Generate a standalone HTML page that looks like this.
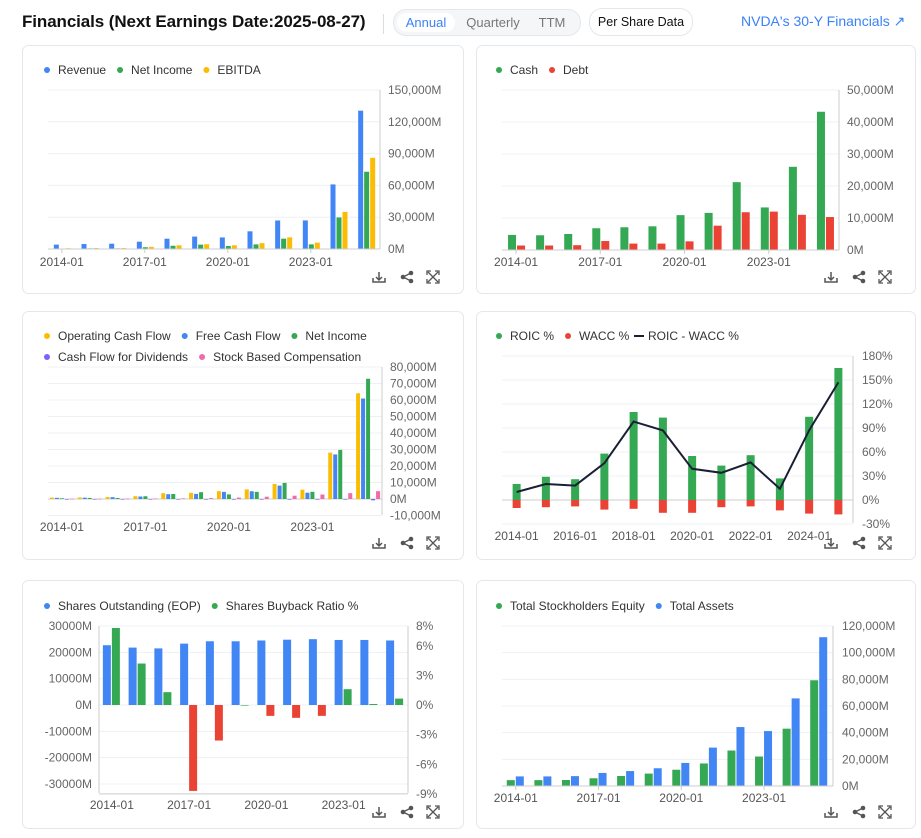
<!DOCTYPE html>
<html><head><meta charset="utf-8">
<style>
body{margin:0;width:921px;height:838px;background:#fff;font-family:"Liberation Sans",sans-serif;position:relative;overflow:hidden}
.hdr{position:absolute;font-family:"Liberation Sans",sans-serif}
#title{left:22px;top:12px;font-size:17px;font-weight:bold;color:#111;letter-spacing:-0.1px}
#sep{left:383px;top:14px;width:1px;height:20px;background:#ddd}
#seg{left:393px;top:9px;width:186px;height:25px;border:1px solid #e5e7eb;border-radius:13px;background:#f5f6f8}
#seg span{position:absolute;top:3px;height:19px;line-height:19px;font-size:13px;color:#777;text-align:center}
#per{left:589px;top:8px;width:102px;height:26px;border:1px solid #e5e7eb;border-radius:13px;font-size:12.5px;line-height:26px;text-align:center;color:#111}
#link{left:741px;top:13px;font-size:14px;color:#3b82f6}
svg text{font-family:"Liberation Sans",sans-serif}
</style></head>
<body>
<div class="hdr" id="title">Financials (Next Earnings Date:2025-08-27)</div>
<div class="hdr" id="sep"></div>
<div class="hdr" id="seg">
<span style="left:3px;width:58px;background:#fff;border-radius:10px;color:#3b82f6">Annual</span>
<span style="left:66px;width:66px">Quarterly</span>
<span style="left:136px;width:44px">TTM</span>
</div>
<div class="hdr" id="per">Per Share Data</div>
<div class="hdr" id="link">NVDA's 30-Y Financials ↗</div>
<svg id="s" width="921" height="838" style="position:absolute;left:0;top:0"></svg>
<script>
const years=['2014-01','2015-01','2016-01','2017-01','2018-01','2019-01','2020-01','2021-01','2022-01','2023-01','2024-01','2025-01'];
// chart 1
const c1Ticks=[0,30000,60000,90000,120000,150000];
const revenue=[4130,4682,5010,6910,9714,11716,10918,16675,26914,26974,60922,130497];
const netIncome=[440,631,614,1666,3047,4141,2796,4332,9752,4368,29760,72880];
const ebitda=[700,900,900,2000,3500,4500,3500,5500,11000,6000,35000,86000];
// chart 2
const c2Ticks=[0,10000,20000,30000,40000,50000];
const cash=[4700,4600,5000,6800,7100,7400,10900,11600,21200,13300,26000,43200];
const debt=[1400,1400,1500,2800,2000,2000,2700,7600,11800,12000,11000,10300];
// chart 3
const c3Ticks=[-10000,0,10000,20000,30000,40000,50000,60000,70000,80000];
const opCashFlow=[835,906,1175,1672,3502,3743,4761,5822,9108,5641,28090,64089];
const freeCashFlow=[700,800,1100,1500,2900,3100,4300,4700,8100,3800,27000,60900];
const dividends=[-180,-190,-210,-260,-340,-370,-390,-395,-400,-400,-400,-800];
const sbc=[136,158,204,248,391,557,844,1397,2004,2710,3549,4737];
// chart 4
const c4Ticks=[-30,0,30,60,90,120,150,180];
const roic=[20,29,26,58,110,103,55,43,56,27,104,165];
const wacc=[-10,-9,-8,-12,-11,-16,-16,-9,-8,-13,-17,-18];
const roicMinusWacc=[10,20,18,46,98,87,39,34,47,14,87,147];
// chart 5
const c5Ticks=[-30000,-20000,-10000,0,10000,20000,30000];
const c5RightTicks=[-9,-6,-3,0,3,6,8];
const sharesOut=[22700,21800,21500,23300,24200,24200,24500,24800,25000,24700,24700,24500];
const buyback=[7.8,4.2,1.3,-8.7,-3.6,0,-1.1,-1.3,-1.1,1.6,0.1,0.65];
// chart 6
const c6Ticks=[0,20000,40000,60000,80000,100000,120000];
const equity=[4400,4400,4500,5800,7500,9300,12200,16900,26600,22100,43000,79300];
const assets=[7200,7200,7400,9800,11200,13300,17300,28800,44200,41200,65700,111600];

const S=document.getElementById('s');
const NS='http://www.w3.org/2000/svg';
function el(tag,a,name,inter){const e=document.createElementNS(NS,tag);for(const k in a)e.setAttribute(k,a[k]);


S.appendChild(e);return e;}
function txt(x,y,s,name,opt){opt=opt||{};const e=el('text',{x:x,y:y,'font-size':opt.fs||12,fill:opt.fill||'#555','text-anchor':opt.anchor||'start'},name);e.textContent=s;return e;}
const fmt=v=>v.toLocaleString('en-US')+'M';
const BLUE='#4285f4',GREEN='#34a853',YEL='#fbbc04',RED='#ea4335',PURP='#7b61ff',PINK='#f06ba8';
function card(x,y,w,h,name){el('rect',{x:x+.5,y:y+.5,width:w,height:h,rx:6,fill:'#fff',stroke:'#e5e7eb'},name);
const iy=y+h-16,ix=x+w-84;
el('path',{d:`M${ix} ${iy-5}v8M${ix-3} ${iy}l3 3l3-3M${ix-6} ${iy+1}v4h12v-4`,stroke:'#555',fill:'none','stroke-width':1.5},name+'-download-icon',true);
const sx=ix+28;el('path',{d:`M${sx-4} ${iy}L${sx+4} ${iy-4}M${sx-4} ${iy}L${sx+4} ${iy+4}`,stroke:'#555','stroke-width':1.3},name+'-share-lines');
[[sx-4,iy],[sx+4,iy-4],[sx+4,iy+4]].forEach(p=>el('circle',{cx:p[0],cy:p[1],r:2.3,fill:'#555'},name+'-share-icon',true));
const ex=ix+54;el('path',{d:`M${ex-6} ${iy-2}v-4h4M${ex+2} ${iy-6}h4v4M${ex+6} ${iy+2}v4h-4M${ex-2} ${iy+6}h-4v-4M${ex-5} ${iy-5}l10 10M${ex+5} ${iy-5}l-10 10`,stroke:'#555',fill:'none','stroke-width':1.3},name+'-expand-icon',true);}
function legend(items,x,y,name){let cx=x;items.forEach(it=>{el('circle',{cx:cx+3,cy:y-4,r:3,fill:it[1]},name+'-dot');
const t=txt(cx+14,y,it[0],name+'-entry',{fill:'#333'});cx+=14+t.getComputedTextLength()+11;});}
function xs(x0,x1,n){const w=(x1-x0)/n;return i=>x0+w*(i+.5);}
function ys(v0,v1,p0,p1){return v=>p0+(v-v0)*(p1-p0)/(v1-v0);}
function bar(X,Y,i,v,off,w,c,name){const y0=Y(0),y1=Y(v);el('rect',{x:X(i)+off,y:Math.min(y0,y1),width:w,height:Math.max(Math.abs(y1-y0),0.6),fill:c},name);}
function grid(x0,x1,ticks,Y,lx,name,f,anchor){ticks.forEach(t=>{el('line',{x1:x0,x2:x1,y1:Y(t),y2:Y(t),stroke:'#edf0f4'},name+'-gridline');
txt(lx,Y(t)+4,f(t),name+'-tick-label',{anchor:anchor||'start',fill:'#666'});});}
function xaxis(x0,x1,y,X,idx,ly,name){el('line',{x1:x0,x2:x1,y1:y,y2:y,stroke:'#ccc'},name+'-x-axis');
idx.forEach(i=>{el('line',{x1:X(i),x2:X(i),y1:y,y2:y+4,stroke:'#ccc'},name+'-x-tick');txt(X(i),ly,years[i],name+'-x-label',{anchor:'middle'});});}
function vaxis(x,y0,y1,name){el('line',{x1:x,x2:x,y1:y0,y2:y1,stroke:'#ccc'},name+'-y-axis');}

// Chart 1
card(22,45,441,248,'revenue-card');legend([['Revenue',BLUE],['Net Income',GREEN],['EBITDA',YEL]],44,74,'revenue-legend');
{const X=xs(48,380,12),Y=ys(0,150000,249,90);grid(48,380,c1Ticks,Y,388,'revenue',fmt);vaxis(380,90,249,'revenue');
years.forEach((_,i)=>{bar(X,Y,i,revenue[i],-8,5,BLUE,'revenue-bar');bar(X,Y,i,netIncome[i],-2,5,GREEN,'net-income-bar');bar(X,Y,i,ebitda[i],4,5,YEL,'ebitda-bar');});
xaxis(48,380,249,X,[0,3,6,9],266,'revenue');}

// Chart 2
card(476,45,439,248,'cash-debt-card');legend([['Cash',GREEN],['Debt',RED]],496,74,'cash-debt-legend');
{const X=xs(502,839,12),Y=ys(0,50000,250,90);grid(502,839,c2Ticks,Y,847,'cash-debt',fmt);vaxis(839,90,250,'cash-debt');
years.forEach((_,i)=>{bar(X,Y,i,cash[i],-8,8,GREEN,'cash-bar');bar(X,Y,i,debt[i],1,8,RED,'debt-bar');});
xaxis(502,839,250,X,[0,3,6,9],266,'cash-debt');}

// Chart 3
card(22,311,441,248,'cash-flow-card');
legend([['Operating Cash Flow',YEL],['Free Cash Flow',BLUE],['Net Income',GREEN]],44,340,'cash-flow-legend');
legend([['Cash Flow for Dividends',PURP],['Stock Based Compensation',PINK]],44,361,'cash-flow-legend-2');
{const X=xs(48,382,12),Y=ys(0,80000,499,367);grid(48,382,c3Ticks,Y,390,'cash-flow',fmt);vaxis(382,367,515,'cash-flow');
el('line',{x1:48,x2:382,y1:499,y2:499,stroke:'#ccc'},'cash-flow-zero-line');
years.forEach((_,i)=>{bar(X,Y,i,opCashFlow[i],-12,4,YEL,'op-cash-flow-bar');bar(X,Y,i,freeCashFlow[i],-7,4,BLUE,'fcf-bar');bar(X,Y,i,netIncome[i],-2,4,GREEN,'cf-net-income-bar');bar(X,Y,i,dividends[i],3,4,PURP,'dividends-bar');bar(X,Y,i,sbc[i],8,4,PINK,'sbc-bar');});
[0,3,6,9].forEach(i=>txt(X(i),531,years[i],'cash-flow-x-label',{anchor:'middle'}));}

// Chart 4
card(476,311,439,248,'roic-card');
legend([['ROIC %',GREEN],['WACC %',RED]],496,340,'roic-legend');
el('line',{x1:634,x2:644,y1:336,y2:336,stroke:'#1a1f36','stroke-width':2},'roic-wacc-legend-line');txt(648,340,'ROIC - WACC %','roic-legend-entry',{fill:'#333'});
{const X=xs(502,853,12),Y=ys(0,180,500,356);grid(502,853,c4Ticks,Y,862,'roic',t=>t+'%');vaxis(853,356,523,'roic');
el('line',{x1:502,x2:853,y1:500,y2:500,stroke:'#ccc'},'roic-zero-line');
years.forEach((_,i)=>{bar(X,Y,i,roic[i],-4,8,GREEN,'roic-bar');bar(X,Y,i,wacc[i],-4,8,RED,'wacc-bar');});
el('polyline',{points:roicMinusWacc.map((v,i)=>X(i)+','+Y(v)).join(' '),fill:'none',stroke:'#1a1f36','stroke-width':2},'roic-minus-wacc-line');
[0,2,4,6,8,10].forEach(i=>txt(X(i),540,years[i],'roic-x-label',{anchor:'middle'}));}

// Chart 5
card(22,580,441,248,'shares-card');legend([['Shares Outstanding (EOP)',BLUE],['Shares Buyback Ratio %',GREEN]],44,610,'shares-legend');
{const X=xs(99,408,12),Y=ys(0,30000,705,626),R=ys(0,8,705,626);grid(99,408,c5Ticks,Y,92,'shares',t=>t+'M','end');
el('line',{x1:99,x2:408,y1:R(-9),y2:R(-9),stroke:'#ccc'},'shares-bottom-line');
c5RightTicks.forEach(t=>txt(416,R(t)+4,t+'%','shares-right-tick-label',{fill:'#666'}));
vaxis(99,626,793,'shares-left');vaxis(408,626,793,'shares-right');
years.forEach((_,i)=>{bar(X,Y,i,sharesOut[i],-9,8,BLUE,'shares-outstanding-bar');bar(X,R,i,buyback[i],0,8,buyback[i]>=0?GREEN:RED,'buyback-ratio-bar');});
[0,3,6,9].forEach(i=>txt(X(i),809,years[i],'shares-x-label',{anchor:'middle'}));}

// Chart 6
card(476,580,439,248,'equity-card');legend([['Total Stockholders Equity',GREEN],['Total Assets',BLUE]],496,610,'equity-legend');
{const X=xs(502,833,12),Y=ys(0,120000,786,626);grid(502,833,c6Ticks,Y,842,'equity',fmt);vaxis(833,626,786,'equity');
years.forEach((_,i)=>{bar(X,Y,i,equity[i],-9,8,GREEN,'equity-bar');bar(X,Y,i,assets[i],0,8,BLUE,'assets-bar');});
xaxis(502,833,786,X,[0,3,6,9],802,'equity');}
</script>
</body></html>
